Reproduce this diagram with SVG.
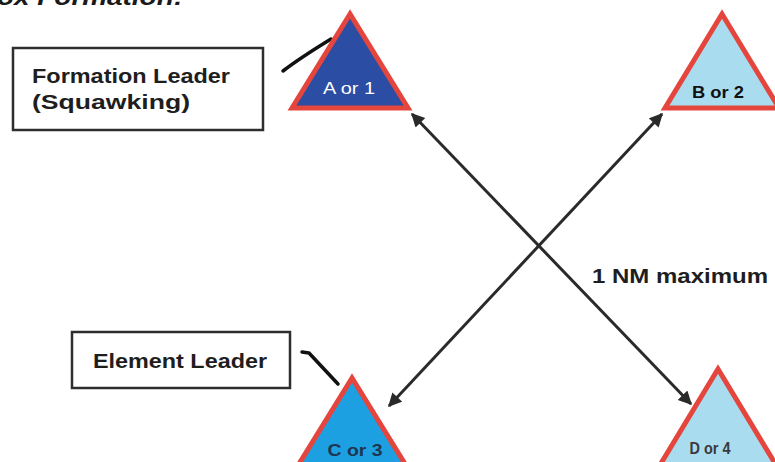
<svg xmlns="http://www.w3.org/2000/svg" width="775" height="462" viewBox="0 0 775 462">
<style>
.lbl{font-family:"Liberation Sans",Arial,sans-serif;font-weight:bold;font-size:21px;fill:#1e1e1e}
.box{fill:#fff;stroke:#2e2e2e;stroke-width:2.5}
.tri{stroke:#e4463e;stroke-width:5;stroke-linejoin:miter}
.tl{font-family:"Liberation Sans",Arial,sans-serif;font-size:16px;text-anchor:middle}
.conn{stroke:#2a2a2a;stroke-width:3;fill:none}
.lead{stroke:#111;stroke-width:3.5;fill:none;stroke-linecap:round;stroke-linejoin:round}
</style>
<defs>
<marker id="ah" viewBox="0 0 10 10" refX="9" refY="5" markerWidth="5" markerHeight="4.5" orient="auto-start-reverse" markerUnits="strokeWidth">
<path d="M0,0 L10,5 L0,10 z" fill="#2a2a2a"/>
</marker>
</defs>
<rect width="775" height="462" fill="#fff"/>
<text x="-3" y="5" font-family="'Liberation Sans',Arial,sans-serif" font-weight="bold" font-style="italic" font-size="24" fill="#1a1a1a" textLength="186" lengthAdjust="spacingAndGlyphs">ox Formation:</text>

<g id="connectors">
<line class="conn" x1="412" y1="114" x2="691" y2="404" marker-start="url(#ah)" marker-end="url(#ah)"/>
<line class="conn" x1="662" y1="114" x2="389" y2="406" marker-start="url(#ah)" marker-end="url(#ah)"/>
<path class="lead" d="M283,71 Q300,58 331,39 L333,40"/>
<path class="lead" d="M302,352 L309,353 L338,384"/>
</g>

<g id="formation-leader-box">
<rect class="box" x="13" y="48" width="250" height="82"/>
<text class="lbl" x="32" y="83" textLength="198" lengthAdjust="spacingAndGlyphs">Formation Leader</text>
<text class="lbl" x="32" y="109" textLength="158" lengthAdjust="spacingAndGlyphs">(Squawking)</text>
</g>

<g id="element-leader-box">
<rect class="box" x="72" y="332" width="218" height="56"/>
<text class="lbl" x="93" y="368" textLength="174" lengthAdjust="spacingAndGlyphs">Element Leader</text>
</g>

<g id="label-1nm">
<text class="lbl" x="592" y="283" textLength="176" lengthAdjust="spacingAndGlyphs">1 NM maximum</text>
</g>

<g id="node-a">
<polygon class="tri" points="350,14 292,108 408,108" fill="#2b4da3"/>
<text class="tl" x="349" y="94" fill="#fff" textLength="52" lengthAdjust="spacingAndGlyphs">A or 1</text>
</g>

<g id="node-b">
<polygon class="tri" points="722,14 665,108 779,108" fill="#aadcf0"/>
<text class="tl" x="718" y="98" font-weight="bold" fill="#111" textLength="52" lengthAdjust="spacingAndGlyphs">B or 2</text>
</g>

<g id="node-c">
<polygon class="tri" points="352,378 294,472 410,472" fill="#1da0e2"/>
<text class="tl" x="355" y="456" font-weight="bold" fill="#1f3550" textLength="55" lengthAdjust="spacingAndGlyphs">C or 3</text>
</g>

<g id="node-d">
<polygon class="tri" points="718,369 660,465 776,465" fill="#aadcf0"/>
<text class="tl" x="710" y="454" font-weight="bold" fill="#3a3a3a" textLength="41" lengthAdjust="spacingAndGlyphs">D or 4</text>
</g>
</svg>
